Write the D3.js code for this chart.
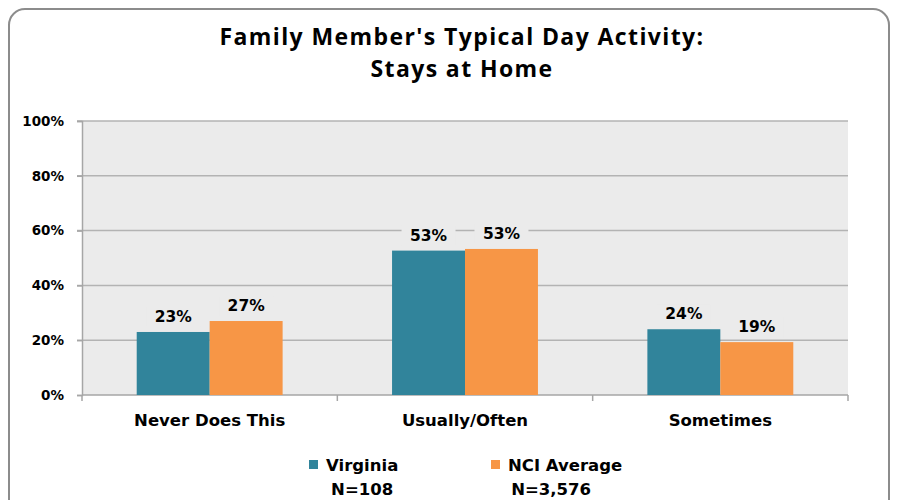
<!DOCTYPE html>
<html>
<head>
    <script src="https://cdnjs.cloudflare.com/ajax/libs/d3/7.8.5/d3.min.js"></script>
    <style>
        body { margin: 0; background: #fff; }
        svg text { font-family: "DejaVu Sans", Verdana, sans-serif; font-weight: bold; fill: #000; }
        .title { font-family: "Open Sans", "Liberation Sans", sans-serif; font-size: 23px; letter-spacing: 1.4px; }
    </style>
</head>
<body>
    <svg id="chart" width="900" height="500"></svg>
    <script>
        // chart data
        const categories = ["Never Does This", "Usually/Often", "Sometimes"];
        const virginia = [23, 52.7, 24];
        const nciAverage = [27, 53.3, 19.3];
        const seriesNames = ["Virginia", "NCI Average"];
        const seriesN = ["N=108", "N=3,576"];
        const yTicks = [0, 20, 40, 60, 80, 100];

        const colors = ["#31849b", "#f79646"];
        const plotBg = "#ebebeb";

        const svg = d3.select("#chart");

        // outer frame
        svg.append("rect")
            .attr("x", 9).attr("y", 9)
            .attr("width", 880).attr("height", 520)
            .attr("rx", 16)
            .attr("fill", "#fff")
            .attr("stroke", "#8c8c8c")
            .attr("stroke-width", 2);

        // title
        svg.append("text").attr("class", "title")
            .attr("x", 462).attr("y", 45)
            .attr("text-anchor", "middle")
            .text("Family Member's Typical Day Activity:");
        svg.append("text").attr("class", "title")
            .attr("x", 462).attr("y", 77)
            .attr("text-anchor", "middle")
            .text("Stays at Home");

        const plotLeft = 82, plotRight = 848, plotTop = 121, plotBottom = 395;

        const x = d3.scaleBand().domain(categories).range([plotLeft, plotRight]).paddingInner(0).paddingOuter(0);
        const y = d3.scaleLinear().domain([0, 100]).range([plotBottom, plotTop]);

        // bar width: gap of 150% of one bar
        const barW = x.bandwidth() / 3.5;

        // plot background
        svg.append("rect")
            .attr("x", plotLeft).attr("y", plotTop)
            .attr("width", plotRight - plotLeft).attr("height", plotBottom - plotTop)
            .attr("fill", plotBg);

        // gridlines
        svg.append("g").selectAll("line")
            .data(yTicks.filter(d => d > 0))
            .enter().append("line")
            .attr("x1", plotLeft - 5).attr("x2", plotRight)
            .attr("y1", d => y(d)).attr("y2", d => y(d))
            .attr("stroke", "#b3b3b3").attr("stroke-width", 1.5);

        // y axis
        const yAxis = svg.append("g")
            .attr("transform", `translate(${plotLeft},0)`)
            .call(d3.axisLeft(y).tickValues(yTicks).tickFormat(d => d + "%").tickSize(5).tickPadding(13));
        yAxis.select(".domain").attr("stroke", "#a6a6a6").attr("stroke-width", 1.5);
        yAxis.selectAll(".tick line").attr("stroke", "#a6a6a6").attr("stroke-width", 1.5);
        yAxis.selectAll(".tick text").style("font-size", "13.5px")
            .style("font-family", "'DejaVu Sans', sans-serif").style("font-weight", "bold");

        // x axis baseline and category ticks
        svg.append("line")
            .attr("x1", plotLeft).attr("x2", plotRight)
            .attr("y1", plotBottom).attr("y2", plotBottom)
            .attr("stroke", "#a6a6a6").attr("stroke-width", 1.5);
        const edges = categories.map(c => x(c)).concat([plotRight]);
        svg.append("g").selectAll("line")
            .data(edges).enter().append("line")
            .attr("x1", d => d).attr("x2", d => d)
            .attr("y1", plotBottom).attr("y2", plotBottom + 6)
            .attr("stroke", "#a6a6a6").attr("stroke-width", 1.5);

        // category labels
        svg.append("g").selectAll("text")
            .data(categories).enter().append("text")
            .attr("x", d => x(d) + x.bandwidth() / 2)
            .attr("y", 426)
            .attr("text-anchor", "middle")
            .style("font-size", "16.5px")
            .text(d => d);

        // bars
        const series = [virginia, nciAverage];
        series.forEach((vals, s) => {
            const g = svg.append("g");
            g.selectAll("rect")
                .data(vals).enter().append("rect")
                .attr("x", (d, i) => x(categories[i]) + x.bandwidth() / 2 - barW + s * barW)
                .attr("y", d => y(d))
                .attr("width", barW)
                .attr("height", d => plotBottom - y(d))
                .attr("fill", colors[s]);

            // value labels with plot-coloured background
            const lbl = g.selectAll("g.lbl")
                .data(vals).enter().append("g")
                .attr("transform", (d, i) => `translate(${x(categories[i]) + x.bandwidth() / 2 - barW / 2 + s * barW},${y(d) - 10})`);
            lbl.append("rect")
                .attr("x", -27).attr("y", -15)
                .attr("width", 54).attr("height", 20)
                .attr("fill", plotBg);
            lbl.append("text")
                .attr("text-anchor", "middle")
                .style("font-size", "15.5px")
                .text(d => Math.round(d) + "%");
        });

        // legend
        const legendX = [313, 495];
        const nShift = [0, -14];
        seriesNames.forEach((name, s) => {
            svg.append("rect")
                .attr("x", legendX[s] - 4).attr("y", 460)
                .attr("width", 9).attr("height", 9)
                .attr("fill", colors[s]);
            const t = svg.append("text")
                .attr("x", legendX[s] + 13).attr("y", 471)
                .style("font-size", "16.5px")
                .text(name);
            const w = t.node().getComputedTextLength();
            svg.append("text")
                .attr("x", legendX[s] + 13 + w / 2 + nShift[s]).attr("y", 495)
                .attr("text-anchor", "middle")
                .style("font-size", "16.5px")
                .text(seriesN[s]);
        });
    </script>
</body>
</html>
